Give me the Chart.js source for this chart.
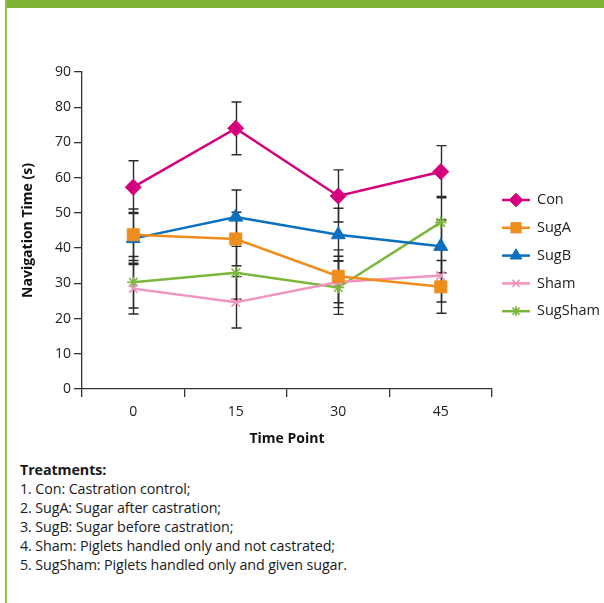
<!DOCTYPE html>
<html>
<head>
<meta charset="utf-8">
<script src="https://cdn.jsdelivr.net/npm/chart.js@4.4.1/dist/chart.umd.min.js"></script>
<style>
  html, body { margin: 0; padding: 0; background: #fff; }
  #page { position: relative; width: 604px; height: 603px; overflow: hidden; }
  #topbar { position: absolute; left: 5px; top: 0; width: 599px; height: 8px; background: #80B337; }
  #leftbar { position: absolute; left: 5px; top: 0; width: 2px; height: 603px; background: #8CC04A; }
  #wrap { position: absolute; left: 0; top: 0; width: 604px; height: 460px; }
  #notes { position: absolute; left: 20px; top: 460px; font-family: "Open Sans", sans-serif; font-size: 14.3px; line-height: 19px; color: #1a1a1a; letter-spacing: -0.1px; }
  #notes b { font-weight: 700; }
</style>
</head>
<body>
<div id="page">
  <div id="topbar"></div>
  <div id="leftbar"></div>
  <div id="wrap"><canvas id="chart" width="604" height="460"></canvas></div>
  <div id="notes">
    <b>Treatments:</b><br>
    1. Con: Castration control;<br>
    2. SugA: Sugar after castration;<br>
    3. SugB: Sugar before castration;<br>
    4. Sham: Piglets handled only and not castrated;<br>
    5. SugSham: Piglets handled only and given sugar.
  </div>
</div>
<script>
// Time points (minutes)
const timePoints = ['0', '15', '30', '45'];

// Mean navigation time (s) per treatment
const conMean     = [57.3, 74.0, 54.8, 61.7];
const sugAMean    = [43.8, 42.6, 32.0, 29.0];
const sugBMean    = [42.7, 48.8, 43.8, 40.5];
const shamMean    = [28.5, 24.6, 30.4, 32.2];
const sugShamMean = [30.3, 33.0, 28.8, 47.3];

// Standard errors
const conErr     = [7.5, 7.5, 7.4, 7.4];
const sugAErr    = [7.3, 7.6, 7.5, 7.5];
const sugBErr    = [7.4, 7.7, 7.5, 7.5];
const shamErr    = [7.2, 7.3, 7.3, 7.5];
const sugShamErr = [7.3, 7.5, 7.6, 7.4];

const FONT = '"Open Sans", sans-serif';
const TEXT_SIZE = 14;

function series(label, data, err, color, style, radius, bw) {
  return {
    label, data, err,
    borderColor: color,
    backgroundColor: color,
    pointBackgroundColor: color,
    pointBorderColor: color,
    pointStyle: style,
    pointRadius: radius,
    pointHoverRadius: radius,
    pointBorderWidth: bw,
    borderWidth: 2.5,
    tension: 0,
    fill: false
  };
}

const datasets = [
  series('Con', conMean, conErr, '#D6007F', 'rectRot', 8, 1),
  series('SugA', sugAMean, sugAErr, '#EF8D1F', 'rect', 8.5, 1),
  series('SugB', sugBMean, sugBErr, '#0A6FBE', 'triangle', 8, 1),
  series('Sham', shamMean, shamErr, '#F094BE', 'crossRot', 6, 1.6),
  series('SugSham', sugShamMean, sugShamErr, '#7CB63B', 'star', 6, 1.6)
];

// Vertical error bars with caps, drawn beneath the lines and markers
const errorBars = {
  id: 'errorBars',
  beforeDatasetsDraw(chart) {
    const ctx = chart.ctx;
    const y = chart.scales.y;
    ctx.save();
    ctx.strokeStyle = '#2a2a2a';
    ctx.lineWidth = 1.4;
    chart.data.datasets.forEach((ds, di) => {
      const meta = chart.getDatasetMeta(di);
      meta.data.forEach((pt, i) => {
        const hi = y.getPixelForValue(ds.data[i] + ds.err[i]);
        const lo = y.getPixelForValue(ds.data[i] - ds.err[i]);
        const x = Math.round(pt.x) + 0.5;
        ctx.beginPath();
        ctx.moveTo(x, hi); ctx.lineTo(x, lo);
        ctx.moveTo(x - 5, hi); ctx.lineTo(x + 5, hi);
        ctx.moveTo(x - 5, lo); ctx.lineTo(x + 5, lo);
        ctx.stroke();
      });
    });
    ctx.restore();
  }
};

// Legend on the right: short line with the series marker, then the name
const sideLegend = {
  id: 'sideLegend',
  afterDraw(chart) {
    const ctx = chart.ctx;
    const x0 = 502, x1 = 530, tx = 537;
    const top = 200, step = 27.8;
    ctx.save();
    chart.data.datasets.forEach((ds, i) => {
      const yy = top + i * step;
      ctx.strokeStyle = ds.borderColor;
      ctx.lineWidth = 2.5;
      ctx.beginPath();
      ctx.moveTo(x0, yy); ctx.lineTo(x1, yy);
      ctx.stroke();
      ctx.lineWidth = ds.pointBorderWidth;
      ctx.fillStyle = ds.pointBackgroundColor;
      ctx.strokeStyle = ds.pointBorderColor;
      Chart.helpers.drawPoint(ctx, { pointStyle: ds.pointStyle, radius: ds.pointRadius * 0.85, rotation: 0, borderWidth: ds.pointBorderWidth }, (x0 + x1) / 2, yy);
      ctx.fillStyle = '#222';
      ctx.font = '14.5px ' + FONT;
      ctx.textBaseline = 'middle';
      ctx.textAlign = 'left';
      ctx.fillText(ds.label, tx, yy);
    });
    ctx.restore();
  }
};

function build() {
  new Chart(document.getElementById('chart'), {
    type: 'line',
    data: { labels: timePoints, datasets },
    options: {
      responsive: false,
      animation: false,
      layout: { padding: { left: 20, right: 112, top: 72, bottom: 13 } },
      plugins: { legend: { display: false }, tooltip: { enabled: false } },
      scales: {
        x: {
          offset: true,
          grid: { offset: true, drawOnChartArea: false, drawTicks: true, tickLength: 8, color: '#333', lineWidth: 1.3 },
          border: { color: '#333', width: 1.3 },
          ticks: { color: '#222', font: { family: FONT, size: TEXT_SIZE }, padding: 7 },
          title: { display: true, text: 'Time Point', color: '#111', font: { family: FONT, size: TEXT_SIZE, weight: 'bold' }, padding: { top: 6, bottom: 0 } },
          afterFit(s) { s.height = 58; }
        },
        y: {
          min: 0, max: 90,
          ticks: { stepSize: 10, color: '#222', font: { family: FONT, size: TEXT_SIZE }, padding: 3 },
          grid: { drawOnChartArea: false, drawTicks: true, tickLength: 8, color: '#333', lineWidth: 1.3 },
          border: { color: '#333', width: 1.3 },
          title: { display: true, text: 'Navigation Time (s)', color: '#111', font: { family: FONT, size: TEXT_SIZE, weight: 'bold' }, padding: 0 },
          afterFit(s) { s.width = 62; }
        }
      }
    },
    plugins: [errorBars, sideLegend]
  });
}

// Make sure the canvas text uses the intended face
Promise.all([
  document.fonts.load('14px "Open Sans"'),
  document.fonts.load('bold 14px "Open Sans"')
]).then(build, build);
</script>
</body>
</html>
